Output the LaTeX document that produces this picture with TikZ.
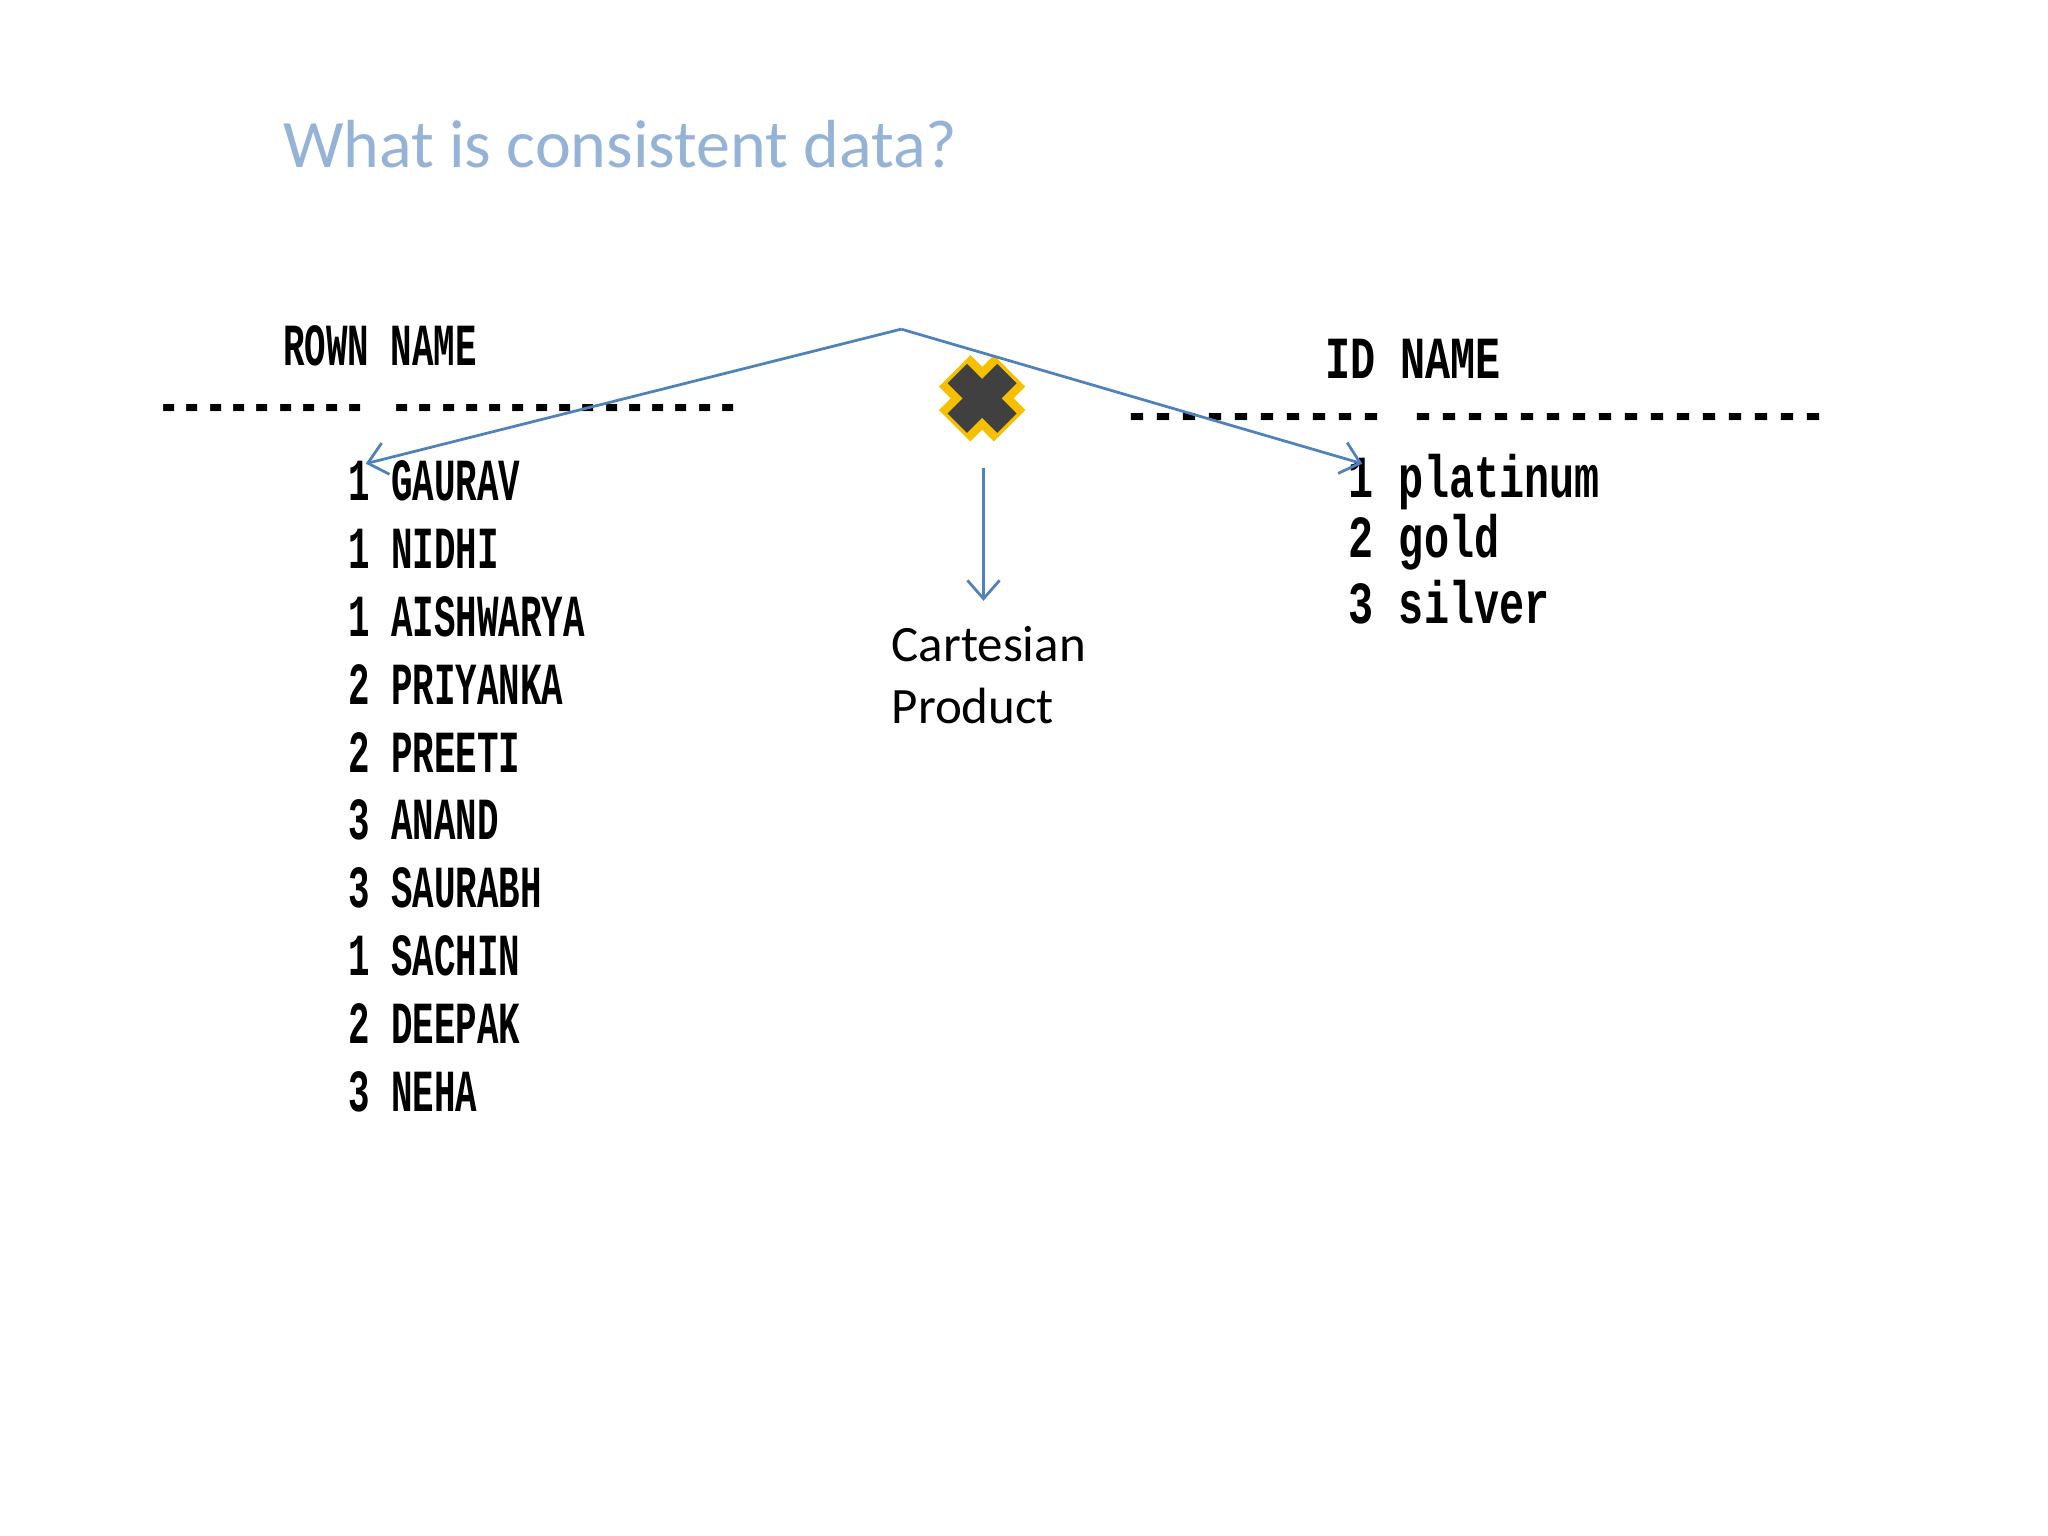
\documentclass[tikz,border=0pt]{standalone}
\usepackage{fontspec}
\setmainfont{Carlito}
\newfontfamily\monof{Liberation Mono}
\usetikzlibrary{arrows.meta}
\definecolor{titleblue}{HTML}{95B3D7}
\definecolor{arrblue}{HTML}{4F81BD}
\definecolor{xgrey}{HTML}{404040}
\definecolor{xyellow}{HTML}{F6C000}
\tikzset{
  lt/.style={anchor=west,inner sep=0pt,font=\monof\bfseries\fontsize{13}{13}\selectfont},
  rt/.style={anchor=west,inner sep=0pt,font=\monof\bfseries\fontsize{13}{13}\selectfont},
  conn/.style={draw=arrblue,line width=0.6pt,-{Straight Barb[length=4pt,width=7pt]}}
}
\newcommand{\lsq}[1]{\scalebox{0.6}[1]{#1}}
\newcommand{\rsq}[1]{\scalebox{0.7}[1]{#1}}
\begin{document}
\begin{tikzpicture}[x=0.01cm,y=-0.01cm]
\useasboundingbox (0,0) rectangle (1568,1176);
\node[anchor=west,inner sep=0pt,text=titleblue,font=\fontsize{14.8}{14.8}\selectfont] (title) at (216,110) {What is consistent data?};
% left table
\node[lt] (lh) at (216,265) {\lsq{ROWN NAME}};
\node[lt] (ld) at (120,317) {\scalebox{0.65}[1]{--------- ---------------}};
\foreach \t [count=\i] in {1 GAURAV,1 NIDHI,1 AISHWARYA,2 PRIYANKA,2 PREETI,3 ANAND,3 SAURABH,1 SACHIN,2 DEEPAK,3 NEHA}
  \node[lt] (l\i) at (266,{368+52*(\i-1)}) {\lsq{\t}};
% right table
\node[rt] (rh) at (1014,275) {\rsq{ID NAME}};
\node[rt] (rd) at (860,324) {\scalebox{0.726}[1]{---------- ----------------}};
\node[rt] (r1) at (1032,369) {\rsq{1 platinum}};
\node[rt] (r2) at (1032,415) {\rsq{2 gold}};
\node[rt] (r3) at (1032,461) {\rsq{3 silver}};
% X mark
\draw[xyellow,line width=3.4mm,line join=round] (731,284) -- (773,326) (773,284) -- (731,326);
\draw[xgrey,line width=2.1mm] (733,286) -- (771,324) (771,286) -- (733,324);
% cartesian product
\node[anchor=north west,inner sep=0pt,align=left,font=\fontsize{11.1}{13.4}\selectfont] (cp) at (682,479) {Cartesian\\Product};
% connectors
\coordinate (apex) at (690,252);
\coordinate (la) at (280,355);
\coordinate (ra) at (1043,355);
\coordinate (ds) at (753,358);
\coordinate (de) at (753,460);
\draw[conn] (apex) -- (la);
\draw[conn] (apex) -- (ra);
\draw[conn] (ds) -- (de);
\end{tikzpicture}
\end{document}
